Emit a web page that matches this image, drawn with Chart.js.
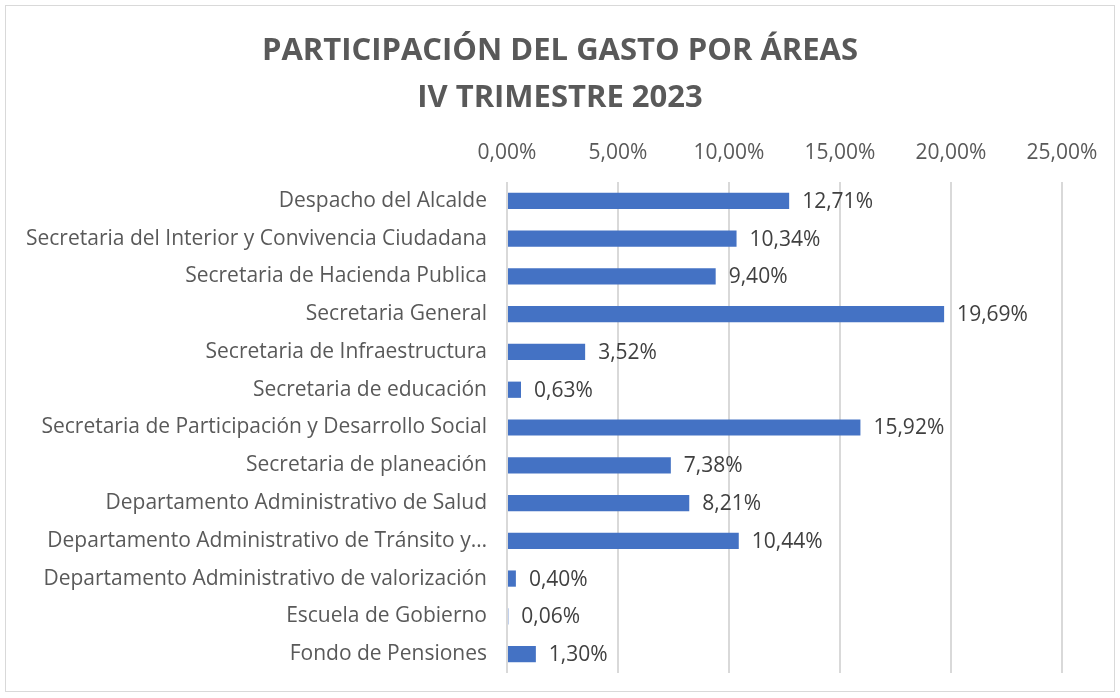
<!DOCTYPE html>
<html>
<head>
<meta charset="utf-8">
<script src="https://cdn.jsdelivr.net/npm/chart.js@4/dist/chart.umd.min.js"></script>
<style>
  html, body { margin: 0; padding: 0; background: #fff; }
  #marco { position: absolute; left: 5px; top: 5px; width: 1108px; height: 685px; border: 1px solid #d9d9d9; }
  #lienzo { position: absolute; left: 0; top: 0; }
</style>
</head>
<body>
<div id="marco"></div>
<canvas id="lienzo" width="1120" height="698"></canvas>
<script>
// Datos del gráfico
const areas = [
    'Despacho del Alcalde',
    'Secretaria del Interior y Convivencia Ciudadana',
    'Secretaria de Hacienda Publica',
    'Secretaria General',
    'Secretaria de Infraestructura',
    'Secretaria de educación',
    'Secretaria de Participación y Desarrollo Social',
    'Secretaria de planeación',
    'Departamento Administrativo de Salud',
    'Departamento Administrativo de Tránsito y…',
    'Departamento Administrativo de valorización',
    'Escuela de Gobierno',
    'Fondo de Pensiones'
];
const participacion = [12.71, 10.34, 9.40, 19.69, 3.52, 0.63, 15.92, 7.38, 8.21, 10.44, 0.40, 0.06, 1.30];
const tituloLineas = ['PARTICIPACIÓN DEL GASTO POR ÁREAS', 'IV TRIMESTRE 2023'];

const fuente = "'Open Sans', 'Noto Sans', sans-serif";

function formatoPct(v) {
    return v.toFixed(2).replace('.', ',') + '%';
}

// Etiquetas de valor al final de cada barra
const etiquetasValor = {
    id: 'etiquetasValor',
    afterDatasetsDraw(chart) {
        const ctx = chart.ctx;
        const meta = chart.getDatasetMeta(0);
        ctx.save();
        ctx.font = '21px ' + fuente;
        ctx.fillStyle = '#404040';
        ctx.textAlign = 'left';
        ctx.textBaseline = 'middle';
        meta.data.forEach((bar, i) => {
            ctx.fillText(formatoPct(participacion[i]), bar.x + 13, bar.y + 1);
        });
        ctx.restore();
    }
};

// Centrar el título en todo el lienzo (no solo en el área con relleno)
const tituloCentrado = {
    id: 'tituloCentrado',
    afterLayout(chart) {
        const t = chart.titleBlock;
        if (t) {
            t.left = 0;
            t.right = chart.width;
            t.width = chart.width;
        }
    }
};

const ctx = document.getElementById('lienzo').getContext('2d');
new Chart(ctx, {
    type: 'bar',
    data: {
        labels: areas,
        datasets: [{
            data: participacion,
            backgroundColor: '#4472C4',
            categoryPercentage: 1,
            barPercentage: 0.43
        }]
    },
    options: {
        indexAxis: 'y',
        responsive: false,
        animation: false,
        layout: { padding: { left: 0, right: 58, top: 0, bottom: 25 } },
        plugins: {
            legend: { display: false },
            tooltip: { enabled: false },
            title: {
                display: true,
                text: tituloLineas,
                color: '#595959',
                font: { family: fuente, size: 31, weight: 'bold', lineHeight: 1.5 },
                padding: { top: 28, bottom: 9 }
            }
        },
        scales: {
            x: {
                position: 'top',
                min: 0,
                max: 25,
                ticks: {
                    stepSize: 5,
                    color: '#595959',
                    font: { family: fuente, size: 21 },
                    padding: 16,
                    callback: v => formatoPct(v)
                },
                grid: { color: '#d9d9d9', lineWidth: 2, drawTicks: false },
                border: { display: false },
                afterFit: s => { s.height = 52; }
            },
            y: {
                ticks: {
                    color: '#595959',
                    font: { family: fuente, size: 21 },
                    padding: 20
                },
                grid: { display: false, drawTicks: false },
                border: { display: false },
                afterFit: s => {
                    s.width = 507;
                    s.paddingTop = 0;
                    s.paddingBottom = 0;
                }
            }
        }
    },
    plugins: [etiquetasValor, tituloCentrado]
});
</script>
</body>
</html>
